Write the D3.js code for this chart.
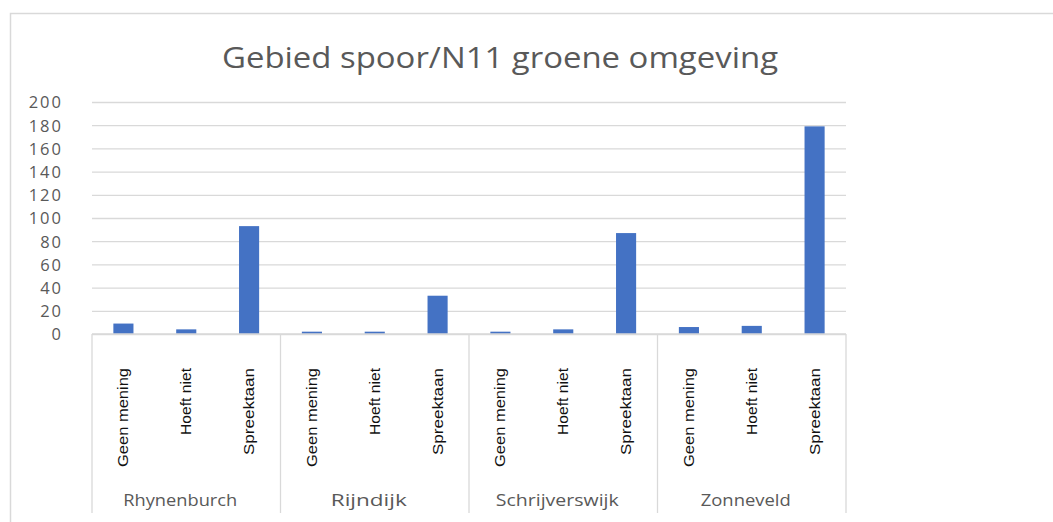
<!DOCTYPE html>
<html><head><meta charset="utf-8">
<script src="https://cdn.jsdelivr.net/npm/d3@7"></script>
<style>body{margin:0;background:#fff;}svg{display:block;}</style>
</head><body>
<script>
const groups = ["Rhynenburch", "Rijndijk", "Schrijverswijk", "Zonneveld"];
const subcats = ["Geen mening", "Hoeft niet", "Spreektaan"];
const geenMening = [9, 2, 2, 6];
const hoeftNiet = [4, 2, 4, 7];
const spreektaan = [93, 33, 87, 179];
const yTicks = [0, 20, 40, 60, 80, 100, 120, 140, 160, 180, 200];
const title = "Gebied spoor/N11 groene omgeving";

(function () {
const W = 1053, H = 522;
const svg = d3.select("body").append("svg").attr("width", W).attr("height", H);
svg.append("rect").attr("x", 10.5).attr("y", 13.5).attr("width", 1060).attr("height", 530)
  .attr("fill", "#fff").attr("stroke", "#d9d9d9").attr("stroke-width", 1.5);

const pLeft = 92, pRight = 846, pTop = 102, pBottom = 334, catBottom = 513;
const y = d3.scaleLinear().domain([0, 200]).range([pBottom, pTop]);
const x0 = d3.scaleBand().domain(groups).range([pLeft, pRight]).padding(0);
const x1 = d3.scaleBand().domain(subcats).range([0, x0.bandwidth()]).paddingInner(0.68).paddingOuter(0.34);

// grid
const gy = svg.append("g").attr("transform", `translate(${pLeft},0)`)
  .call(d3.axisLeft(y).tickValues(yTicks).tickSize(-(pRight - pLeft)).tickFormat(""));
gy.select(".domain").remove();
gy.selectAll("line").attr("stroke", "#d9d9d9").attr("stroke-width", 1.3);

// y labels
const yl = svg.append("g").attr("transform", `translate(63,0)`)
  .call(d3.axisLeft(y).tickValues(yTicks).tickSize(0).tickPadding(0));
yl.select(".domain").remove();
yl.selectAll("text").attr("font-family", "Open Sans, sans-serif").attr("font-size", 16.5)
  .attr("letter-spacing", 2)
  .attr("fill", "#595959").attr("dy", "0.36em");

// bars
const series = [geenMening, hoeftNiet, spreektaan];
const data = [];
groups.forEach((g, gi) => subcats.forEach((s, si) => data.push({g, s, v: series[si][gi]})));
svg.append("g").selectAll("rect").data(data).join("rect")
  .attr("x", d => x0(d.g) + x1(d.s))
  .attr("y", d => y(d.v))
  .attr("width", x1.bandwidth())
  .attr("height", d => y(0) - y(d.v))
  .attr("fill", "#4472C4");

// category axis box
svg.append("line").attr("x1", pLeft).attr("x2", pRight).attr("y1", pBottom).attr("y2", pBottom)
  .attr("stroke", "#d9d9d9").attr("stroke-width", 1.3);
const dividers = groups.map(g => x0(g)).concat([pRight]);
svg.append("g").selectAll("line").data(dividers).join("line")
  .attr("x1", d => d).attr("x2", d => d).attr("y1", pBottom).attr("y2", catBottom)
  .attr("stroke", "#d9d9d9").attr("stroke-width", 1.3);

// sub labels
const lens = {"Geen mening": 99, "Hoeft niet": 67, "Spreektaan": 87};
svg.append("g").selectAll("text").data(data).join("text")
  .attr("transform", d => `translate(${x0(d.g) + x1(d.s) + x1.bandwidth() / 2 + 5},368) rotate(-90)`)
  .attr("text-anchor", "end")
  .attr("font-family", "Liberation Sans, sans-serif").attr("font-size", 14.5)
  .attr("textLength", d => lens[d.s]).attr("lengthAdjust", "spacingAndGlyphs")
  .attr("fill", "#111")
  .text(d => d.s);

// group labels
const glens = {"Rhynenburch": 114, "Rijndijk": 76, "Schrijverswijk": 123, "Zonneveld": 90};
svg.append("g").selectAll("text").data(groups).join("text")
  .attr("x", d => x0(d) + x0.bandwidth() / 2 - 6).attr("y", 506)
  .attr("text-anchor", "middle")
  .attr("font-family", "Open Sans, sans-serif").attr("font-size", 17)
  .attr("textLength", d => glens[d]).attr("lengthAdjust", "spacingAndGlyphs")
  .attr("fill", "#595959")
  .text(d => d);

// title
svg.append("text").attr("x", 500).attr("y", 68).attr("text-anchor", "middle")
  .attr("font-family", "Open Sans, sans-serif").attr("font-size", 29)
  .attr("textLength", 556).attr("lengthAdjust", "spacingAndGlyphs")
  .attr("fill", "#595959").text(title);
})();
</script>
</body></html>
